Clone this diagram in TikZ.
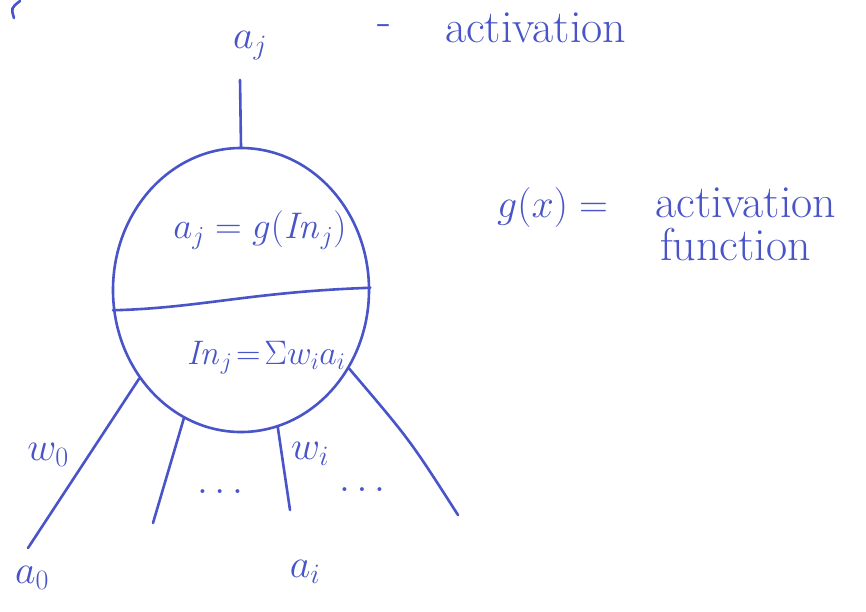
\RequirePackage{fix-cm}
\documentclass[tikz,border=0pt]{standalone}
\usetikzlibrary{shapes.geometric}
\definecolor{inkblue}{RGB}{72,84,200}
\begin{document}
\begin{tikzpicture}[x=1pt,y=-1pt,
  ink/.style={draw=inkblue, line width=2.6pt, line cap=round, line join=round},
  lbl/.style={text=inkblue, inner sep=0pt, font=\fontsize{40}{44}\selectfont},
  wordlbl/.style={text=inkblue, inner sep=0pt, font=\fontsize{46}{50}\selectfont},
  eqlbl/.style={text=inkblue, inner sep=0pt, font=\fontsize{37}{40}\selectfont},
  smalllbl/.style={text=inkblue, inner sep=0pt, font=\fontsize{34}{38}\selectfont}]
\useasboundingbox[fill=white] (0,0) rectangle (866,611);
% top-left fragment
\draw[ink] (20,1) .. controls (11,8) .. (14,18);
% neuron
\node[ellipse, ink, minimum width=256pt, minimum height=284pt, inner sep=0pt] (neuron) at (241,290) {};
% divider
\coordinate (dl) at (neuron.-171);
\coordinate (dr) at (neuron.1);
\draw[ink] (dl) .. controls (200,308) and (250,292) .. (dr);
% inner texts
\node[eqlbl] (eqtop) at (260,230) {$a_j = g(\mathit{In}_j)$};
\node[smalllbl] (eqbot) at (266,358) {$\mathit{In}_j\!=\!\Sigma w_i a_i$};
% output
\coordinate (outtop) at (240,80);
\draw[ink] (neuron.north) -- (outtop);
\node[lbl] (aj) at (250,46) {$a_j$};
\node[wordlbl] (dash) at (384,30) {-};
\node[wordlbl, anchor=west] (actA) at (445,28) {activation};
% g(x)
\node[lbl, anchor=west] (gx) at (497,207) {$g(x) =$};
\node[wordlbl, anchor=west] (actB) at (655,203) {activation};
\node[wordlbl, anchor=west] (func) at (660,245) {function};
% inputs
\coordinate (in0) at (28,548);
\coordinate (in1) at (153,523);
\coordinate (in2) at (290,510);
\coordinate (in3) at (458,515);
\draw[ink] (neuron.-139) -- (in0);
\draw[ink] (neuron.-114) -- (in1);
\draw[ink] (neuron.-75) -- (in2);
\draw[ink] (neuron.-36) .. controls (410,440) .. (in3);
\node[lbl] (w0) at (48,455) {$w_0$};
\node[lbl] (dotsA) at (220,492) {$\ldots$};
\node[lbl] (wi) at (310,454) {$w_i$};
\node[lbl] (dotsB) at (362,490) {$\ldots$};
\node[lbl] (a0) at (32,578) {$a_0$};
\node[lbl] (ai) at (305,572) {$a_i$};
\end{tikzpicture}
\end{document}
